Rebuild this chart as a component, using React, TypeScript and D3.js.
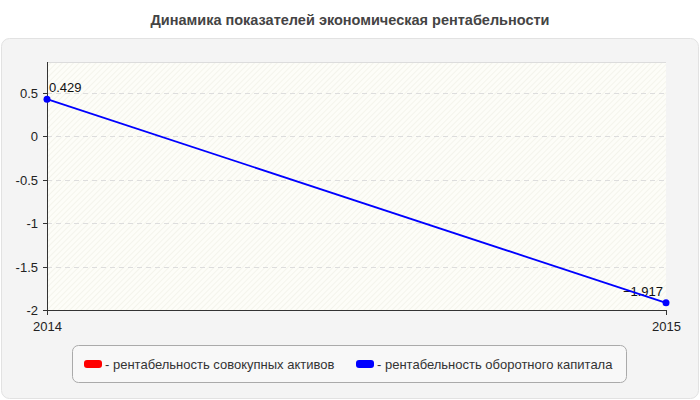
import * as d3 from "d3";

const years = ["2014", "2015"];
const seriesNames = [
    "рентабельность совокупных активов",
    "рентабельность оборотного капитала",
];
const seriesColors = ["#ff0000", "#0000ff"];
const assetsValues: (number | null)[] = [null, null];
const capitalValues = [0.429, -1.917];
const yTicks = [0.5, 0, -0.5, -1, -1.5, -2];

const W = 700;
const H = 400;
const plot = { left: 47, right: 666, top: 62, bottom: 310 };

export default function App() {
    const x = d3
        .scalePoint<string>()
        .domain(years)
        .range([plot.left, plot.right]);
    const y = d3
        .scaleLinear()
        .domain([-2, 0.857])
        .range([plot.bottom, plot.top]);

    const line = d3
        .line<number>()
        .x((_, i) => x(years[i])!)
        .y((d) => y(d));

    const legendX = [84, 356];

    return (
        <svg
            width={W}
            height={H}
            style={{ position: "absolute", left: 0, top: 0, fontFamily: "Arial, 'Liberation Sans', sans-serif" }}
        >
            <defs>
                <pattern id="hatch" width="4" height="4" patternUnits="userSpaceOnUse" patternTransform="rotate(45)">
                    <rect width="4" height="4" fill="#fdfdf8" />
                    <line x1="0" y1="0" x2="0" y2="4" stroke="#f1f1e9" strokeWidth="1.5" />
                </pattern>
            </defs>
            <rect width={W} height={H} fill="#ffffff" />
            <text x={W / 2} y={25} textAnchor="middle" fontSize={14.5} fontWeight="bold" fill="#444">
                Динамика показателей экономическая рентабельности
            </text>
            <rect x={1.5} y={38.5} width={W - 3} height={H - 40} rx={8} fill="#f4f4f4" stroke="#e2e2e2" />

            <rect x={plot.left} y={plot.top} width={plot.right - plot.left} height={plot.bottom - plot.top} fill="url(#hatch)" />
            <line x1={plot.left} x2={plot.right} y1={plot.top + 0.5} y2={plot.top + 0.5} stroke="#dcdcdc" />

            {yTicks.slice(0, -1).map((t) => (
                <line
                    key={t}
                    x1={plot.left}
                    x2={plot.right}
                    y1={Math.round(y(t)) + 0.5}
                    y2={Math.round(y(t)) + 0.5}
                    stroke="#dddddd"
                    strokeDasharray="5,4"
                />
            ))}

            <line x1={plot.left + 0.5} x2={plot.left + 0.5} y1={plot.top} y2={plot.bottom} stroke="#333" />
            <line x1={plot.left} x2={plot.right} y1={plot.bottom + 0.5} y2={plot.bottom + 0.5} stroke="#333" />

            {yTicks.map((t) => (
                <g key={t} transform={`translate(0,${Math.round(y(t)) + 0.5})`}>
                    <line x1={plot.left - 4} x2={plot.left} stroke="#333" />
                    <text x={plot.left - 9} dy="0.35em" textAnchor="end" fontSize={13} fill="#222">
                        {t}
                    </text>
                </g>
            ))}

            {years.map((yr) => (
                <g key={yr} transform={`translate(${x(yr)! + 0.5},${plot.bottom})`}>
                    <line y1={0} y2={5} stroke="#333" />
                    <text y={21} textAnchor="middle" fontSize={13} fill="#222">
                        {yr}
                    </text>
                </g>
            ))}

            {/* value labels first, the line is drawn over them */}
            {capitalValues.map((v, i) => (
                <text
                    key={i}
                    x={x(years[i])! + (i === 0 ? 2 : -3)}
                    y={y(v) - 7}
                    textAnchor={i === 0 ? "start" : "end"}
                    fontSize={13}
                    fill="#111"
                >
                    {d3.format(".3~f")(v)}
                </text>
            ))}
            <path d={line(capitalValues)!} fill="none" stroke={seriesColors[1]} strokeWidth={1.8} />
            {capitalValues.map((v, i) => (
                <circle key={i} cx={x(years[i])!} cy={y(v)} r={3.5} fill={seriesColors[1]} />
            ))}
            {assetsValues.map((v, i) =>
                v == null ? null : <circle key={i} cx={x(years[i])!} cy={y(v)} r={3.5} fill={seriesColors[0]} />
            )}

            <rect x={72.5} y={345.5} width={554} height={37} rx={6} fill="#f8f8f8" stroke="#aaaaaa" />
            {seriesNames.map((name, i) => (
                <g key={name} transform={`translate(${legendX[i]},364)`}>
                    <rect x={0} y={-4} width={18} height={8} rx={3} fill={seriesColors[i]} />
                    <text x={21} dy="0.35em" fontSize={13} fill="#333">
                        - {name}
                    </text>
                </g>
            ))}
        </svg>
    );
}
